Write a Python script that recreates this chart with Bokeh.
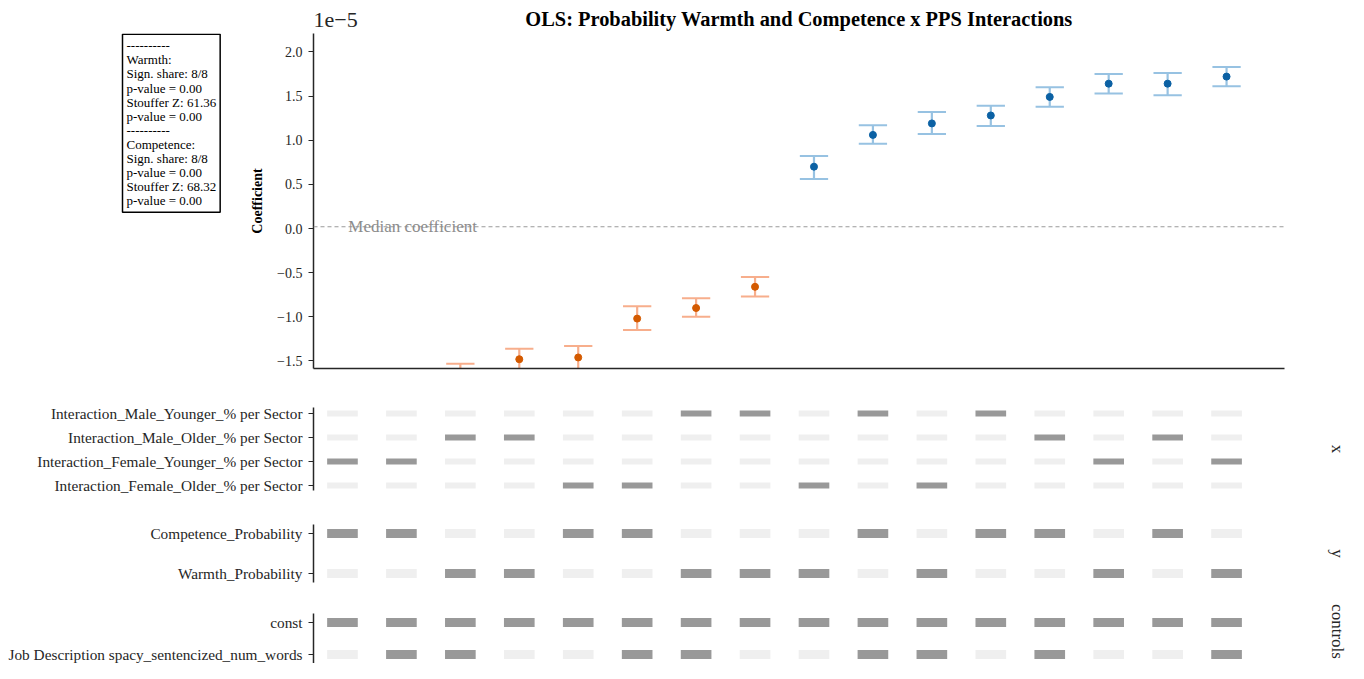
import math
from bokeh.plotting import figure
from bokeh.models import Range1d, FixedTicker, Label, Span, ColumnDataSource
from bokeh.layouts import column, row
from bokeh.embed import file_html
from bokeh.resources import INLINE

# ---------------- data ----------------
spec_index = list(range(16))
coef_e5 = [-1.85, -1.75, -1.65, -1.48, -1.46, -1.02, -0.90, -0.66,
           0.70, 1.06, 1.19, 1.28, 1.49, 1.64, 1.64, 1.72]
ci_low_e5 = [-1.98, -1.87, -1.77, -1.60, -1.59, -1.15, -1.00, -0.77,
             0.56, 0.96, 1.07, 1.16, 1.38, 1.53, 1.51, 1.61]
ci_high_e5 = [-1.72, -1.63, -1.53, -1.36, -1.33, -0.88, -0.79, -0.55,
              0.82, 1.17, 1.32, 1.39, 1.60, 1.75, 1.76, 1.83]
y_ticks = [-1.5, -1.0, -0.5, 0.0, 0.5, 1.0, 1.5, 2.0]

x_rows = ["Interaction_Male_Younger_% per Sector",
          "Interaction_Male_Older_% per Sector",
          "Interaction_Female_Younger_% per Sector",
          "Interaction_Female_Older_% per Sector"]
x_matrix = [
    [0, 0, 0, 0, 0, 0, 1, 1, 0, 1, 0, 1, 0, 0, 0, 0],
    [0, 0, 1, 1, 0, 0, 0, 0, 0, 0, 0, 0, 1, 0, 1, 0],
    [1, 1, 0, 0, 0, 0, 0, 0, 0, 0, 0, 0, 0, 1, 0, 1],
    [0, 0, 0, 0, 1, 1, 0, 0, 1, 0, 1, 0, 0, 0, 0, 0],
]
y_rows = ["Competence_Probability", "Warmth_Probability"]
y_matrix = [
    [1, 1, 0, 0, 1, 1, 0, 0, 0, 1, 0, 1, 1, 0, 1, 0],
    [0, 0, 1, 1, 0, 0, 1, 1, 1, 0, 1, 0, 0, 1, 0, 1],
]
control_rows = ["const", "Job Description spacy_sentencized_num_words"]
control_matrix = [
    [1] * 16,
    [0, 1, 1, 0, 0, 1, 1, 0, 0, 1, 1, 0, 1, 0, 0, 1],
]
group_names = ["x", "y", "controls"]

title_text = "OLS: Probability Warmth and Competence x PPS Interactions"
box_lines = ["----------", "Warmth:", "Sign. share: 8/8", "p-value = 0.00",
             "Stouffer Z: 61.36", "p-value = 0.00", "----------", "Competence:",
             "Sign. share: 8/8", "p-value = 0.00", "Stouffer Z: 68.32", "p-value = 0.00"]

# ---------------- style ----------------
FONT = "Liberation Serif"
INK = "#262626"
W = 1348
FRAME_L, FRAME_R = 313, 1284
X0, X1 = -0.4915, 15.983
sorted_c = sorted(coef_e5)
median_c = (sorted_c[7] + sorted_c[8]) / 2


def blank(width, height, xr, yr):
    f = figure(width=width, height=height, output_backend="svg", toolbar_location=None,
               x_range=Range1d(*xr), y_range=Range1d(*yr),
               x_axis_location=None, y_axis_location=None,
               min_border_left=0, min_border_right=0, min_border_top=0, min_border_bottom=0)
    f.outline_line_color = None
    f.grid.visible = False
    return f


def style_left_axis(ax, size):
    ax.axis_line_color = INK
    ax.axis_line_width = 1.5
    ax.major_tick_line_color = INK
    ax.major_tick_line_width = 1.2
    ax.major_tick_out = 5
    ax.major_tick_in = 0
    ax.minor_tick_line_color = None
    ax.major_label_text_font = FONT
    ax.major_label_text_font_size = size
    ax.major_label_text_color = INK
    ax.major_label_standoff = 6


# ---------------- header (title + offset text) ----------------
header = blank(W, 33, (0, W), (33, 0))
header.add_layout(Label(x=(FRAME_L + FRAME_R) / 2, y=18, text=title_text, text_font=FONT,
                        text_font_size="20.4px", text_font_style="bold", text_color="black",
                        text_align="center", text_baseline="middle"))
header.add_layout(Label(x=FRAME_L, y=19, text="1e\u22125", text_font=FONT,
                        text_font_size="22px", text_color=INK, text_align="left",
                        text_baseline="middle"))

# ---------------- stats box ----------------
BOXW = 240
TOPH = 347
boxfig = blank(BOXW, TOPH, (0, BOXW), (TOPH, 0))
boxfig.add_layout(Label(x=122, y=0.8, text="\n".join(box_lines), text_font=FONT,
                        text_font_size="13px", text_line_height=0.94, text_color="black",
                        text_align="left", text_baseline="top", border_line_color="black",
                        border_line_width=1.5, background_fill_color="white", padding=4))

# ---------------- top panel ----------------
YS, YE = -1.585, 2.208
p1 = figure(width=W - BOXW, height=TOPH, output_backend="svg", toolbar_location=None,
            x_range=Range1d(X0, X1), y_range=Range1d(YS, YE),
            min_border_left=FRAME_L - BOXW, min_border_right=W - FRAME_R,
            min_border_top=0, min_border_bottom=TOPH - 335)
p1.outline_line_color = None
p1.grid.visible = False

p1.yaxis.ticker = FixedTicker(ticks=y_ticks)
p1.yaxis.major_label_overrides = {t: (f"{t:.1f}".replace("-", "\u2212")) for t in y_ticks}
style_left_axis(p1.yaxis[0], "14px")
p1.yaxis.axis_label = "Coefficient"
p1.yaxis.axis_label_text_font = FONT
p1.yaxis.axis_label_text_font_style = "bold"
p1.yaxis.axis_label_text_font_size = "14px"
p1.yaxis.axis_label_text_color = "black"
p1.yaxis.axis_label_standoff = 9

p1.xaxis.ticker = FixedTicker(ticks=[])
p1.xaxis.axis_line_color = INK
p1.xaxis.axis_line_width = 1.5
p1.xaxis.major_tick_out = 0
p1.xaxis.major_label_standoff = 0
p1.xaxis.minor_tick_line_color = None

pos_col = ["#0b61a4" if c > 0 else "#d45a00" for c in coef_e5]
bar_col = ["#97c2e2" if c > 0 else "#f7ae8c" for c in coef_e5]
src = ColumnDataSource(dict(x=spec_index, c=coef_e5, lo=ci_low_e5, hi=ci_high_e5,
                            xl=[i - 0.24 for i in spec_index], xr=[i + 0.24 for i in spec_index],
                            pc=pos_col, bc=bar_col))
p1.segment(x0="x", y0="lo", x1="x", y1="hi", source=src, line_color="bc", line_width=2.2)
p1.segment(x0="xl", y0="lo", x1="xr", y1="lo", source=src, line_color="bc", line_width=2)
p1.segment(x0="xl", y0="hi", x1="xr", y1="hi", source=src, line_color="bc", line_width=2)
p1.scatter(x="x", y="c", source=src, size=7, fill_color="pc", line_color="pc")

p1.add_layout(Span(location=median_c, dimension="width", line_color="#9a9a9a",
                   line_dash="4 3", line_width=1.2))
p1.add_layout(Label(x=0.10, y=median_c + 0.005, text="Median coefficient", text_font=FONT,
                    text_font_size="17px", text_color="#8c8c8c", text_baseline="alphabetic"))


# ---------------- indicator panels ----------------
PW = FRAME_R  # panel figure width (frame ends at FRAME_R)


def panel(rows, matrix, height, top, bottom, ystart, yend, cell_h):
    p = figure(width=PW, height=height, output_backend="svg", toolbar_location=None,
               x_range=Range1d(X0, X1), y_range=Range1d(ystart, yend),
               x_axis_location=None,
               min_border_left=FRAME_L, min_border_right=0, min_border_top=top,
               min_border_bottom=bottom)
    p.outline_line_color = None
    p.grid.visible = False
    xs, ys, cs = [], [], []
    for r, rw in enumerate(matrix):
        for i, v in enumerate(rw):
            xs.append(spec_index[i])
            ys.append(r)
            cs.append("#999999" if v else "#efefef")
    p.rect(x=xs, y=ys, width=0.52, height=cell_h, height_units="screen",
           fill_color=cs, line_color=None)
    p.yaxis.ticker = FixedTicker(ticks=list(range(len(rows))))
    p.yaxis.major_label_overrides = {i: n for i, n in enumerate(rows)}
    style_left_axis(p.yaxis[0], "15.3px")
    return p


p2 = panel(x_rows, x_matrix, 125, 27, 15, 3 + 5 / 24, -6 / 24, 6)
p3 = panel(y_rows, y_matrix, 92, 19, 15, 1.225, -0.225, 9)
p4 = panel(control_rows, control_matrix, 66, 16, 0, 1 + 9 / 32, -9 / 32, 9)

# right-side group labels
RH = 125 + 92 + 66
Y_OFF = 33 + TOPH
rightfig = blank(W - PW, RH, (PW, W), (Y_OFF + RH, Y_OFF))
for name, yc in zip(group_names, [448.5, 553, 631]):
    rightfig.add_layout(Label(x=1337, y=yc, text=name, text_font=FONT, text_font_size="17px",
                              text_color=INK, angle=-math.pi / 2, text_align="center",
                              text_baseline="middle"))

layout = column(header, row(boxfig, p1, spacing=0), row(column(p2, p3, p4, spacing=0), rightfig, spacing=0),
                spacing=0)
open("out.html", "w").write(file_html(layout, INLINE))
